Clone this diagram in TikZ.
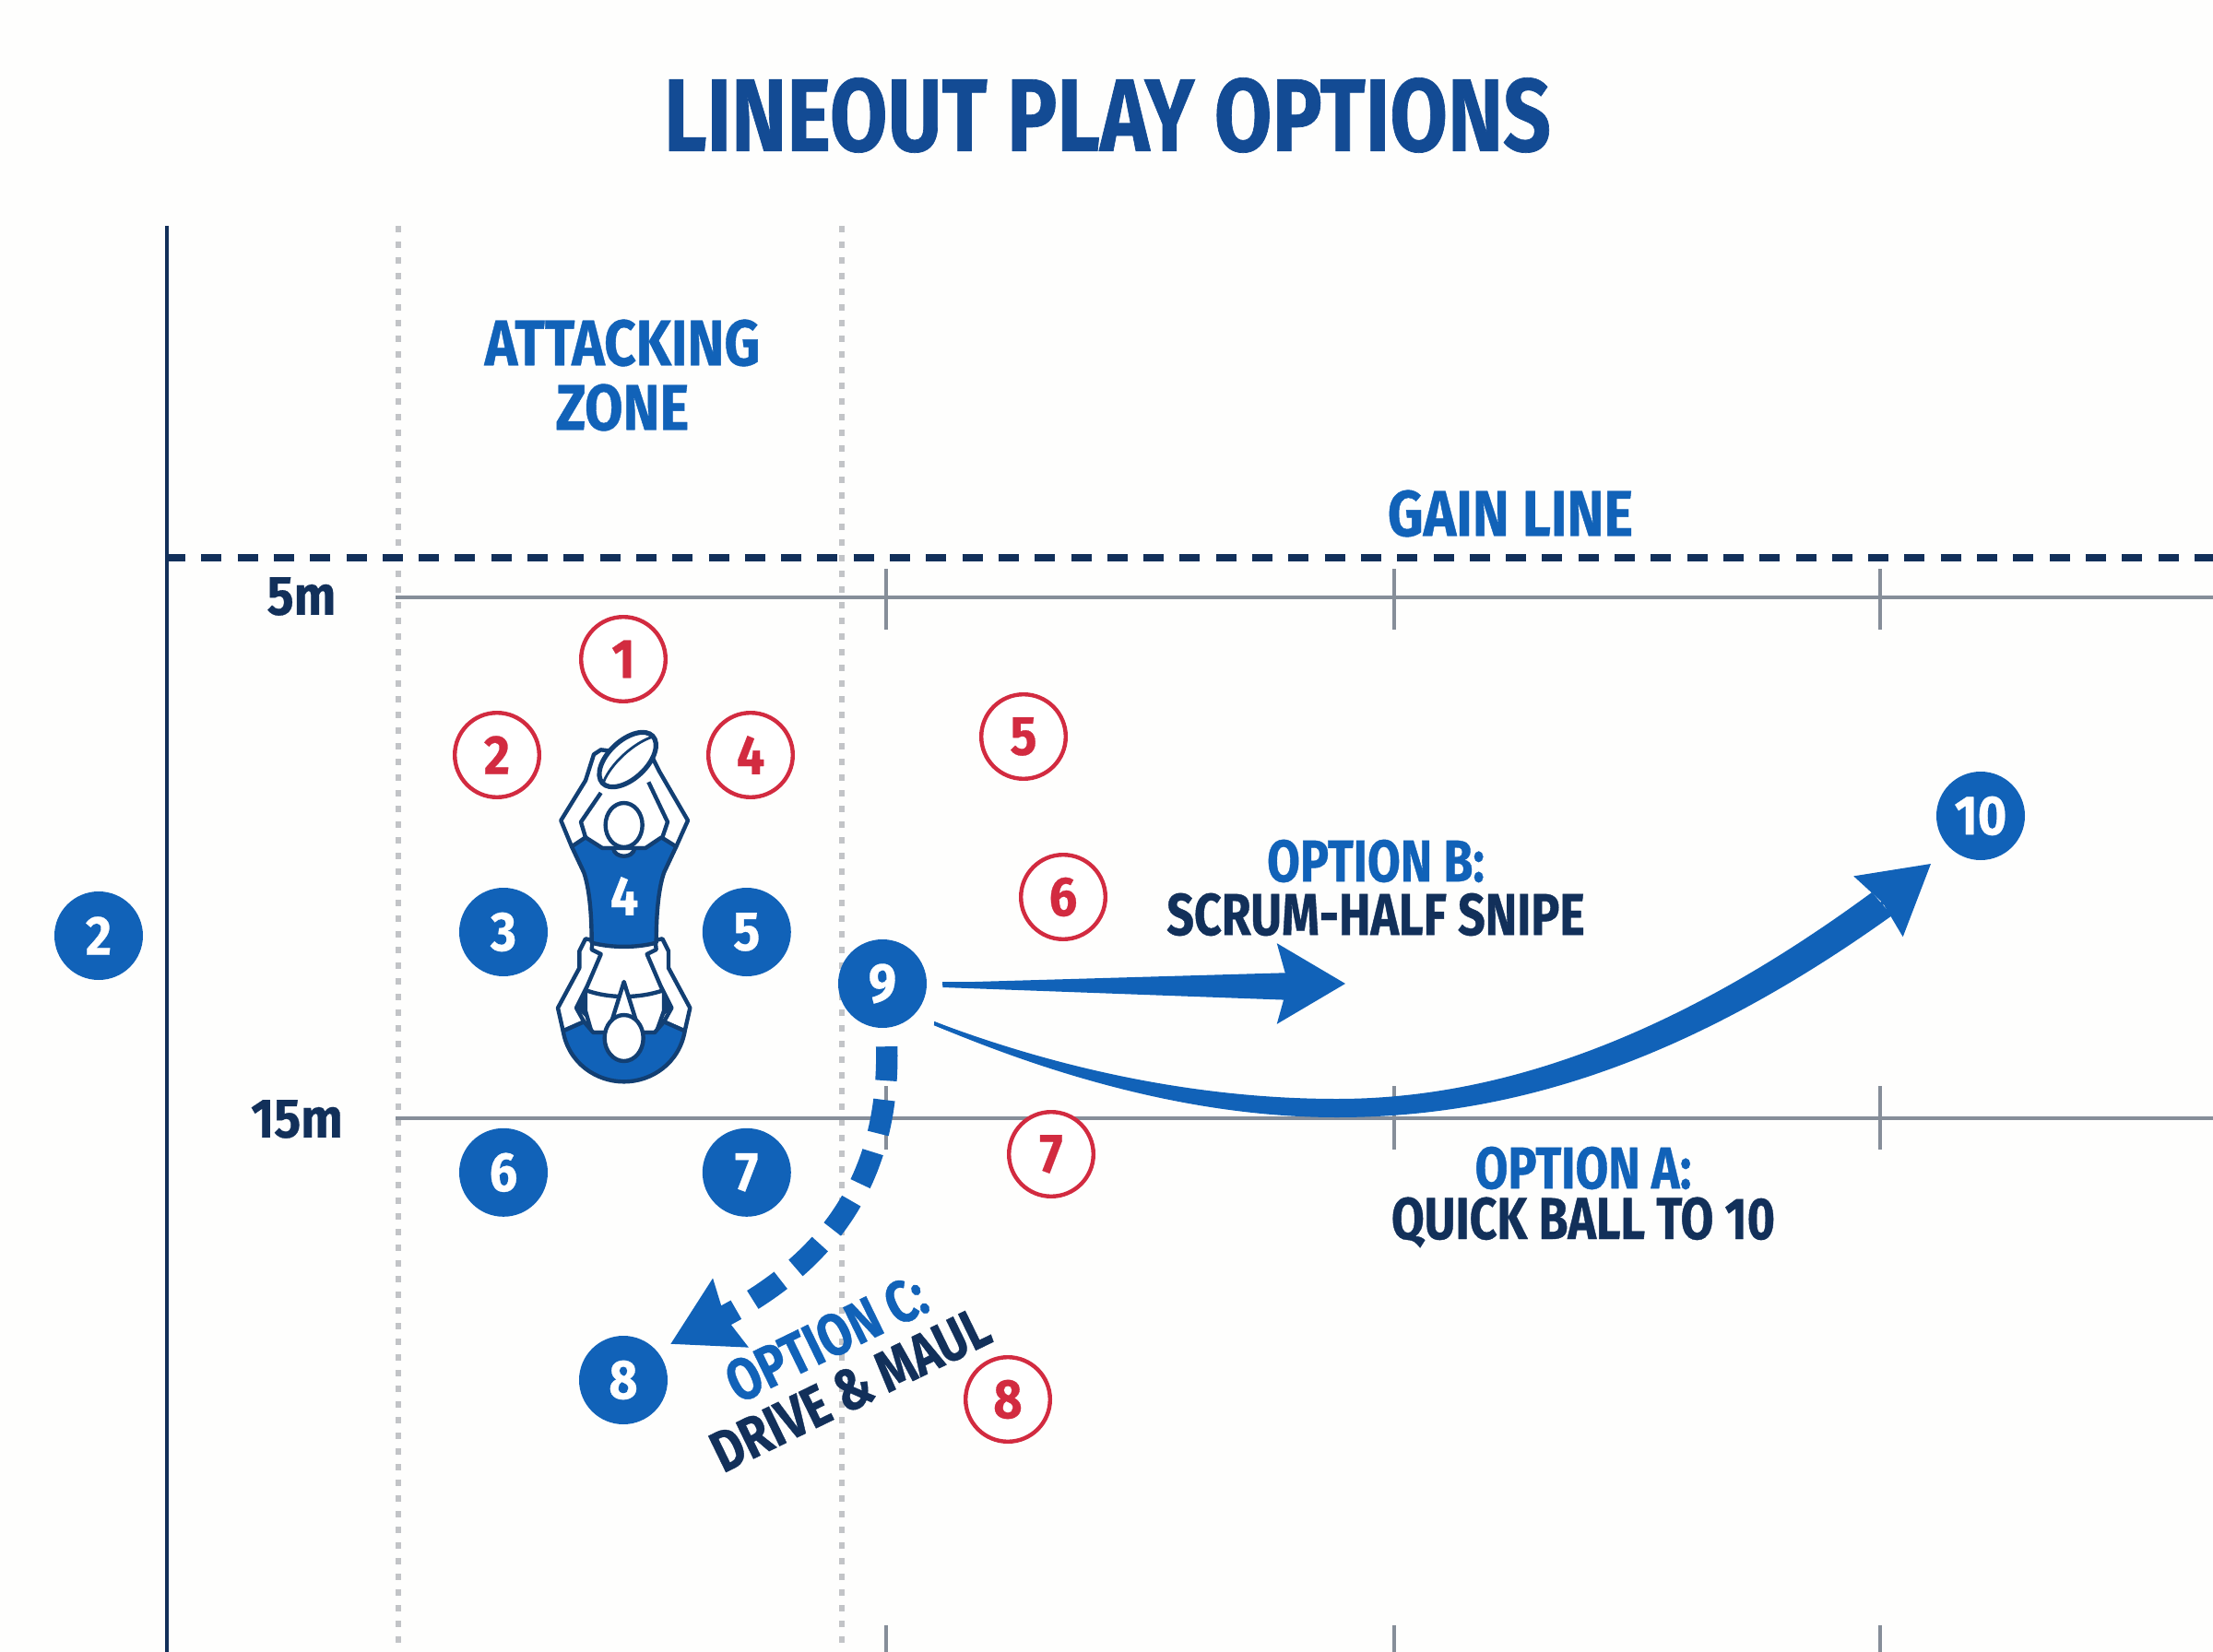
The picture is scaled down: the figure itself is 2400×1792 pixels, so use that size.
\documentclass[tikz,border=0pt]{standalone}
\usepackage{fontspec}
\usetikzlibrary{arrows.meta,positioning,calc}
\newfontfamily\lblfont[FakeStretch=0.81,BoldFeatures={FakeBold=0.6}]{Fira Sans}
\newfontfamily\wdfont[FakeStretch=0.86,BoldFeatures={FakeBold=0.6}]{Fira Sans}
\newfontfamily\numfont[FakeStretch=0.9,BoldFeatures={FakeBold=0.5}]{Fira Sans}
\definecolor{jersey}{HTML}{1162B8}
\definecolor{navy}{HTML}{12305A}
\definecolor{outl}{HTML}{123F73}
\definecolor{heading}{HTML}{134B94}
\definecolor{redp}{HTML}{D22B40}
\definecolor{greyl}{HTML}{868E99}
\definecolor{dotl}{HTML}{C2C4C7}
\definecolor{paper}{HTML}{FEFEFD}
\tikzset{x=.5pt, y=-.5pt}
\tikzstyle{atk}=[circle, fill=jersey, text=white, inner sep=0pt, minimum size=48pt, font=\numfont\bfseries\fontsize{30}{30}\selectfont]
\tikzstyle{dfn}=[circle, draw=redp, line width=2.2pt, fill=white, text=redp, inner sep=0pt, minimum size=45.8pt, font=\numfont\bfseries\fontsize{30}{30}\selectfont]
\tikzstyle{opt}=[inner sep=0pt, text=jersey, font=\lblfont\bfseries\fontsize{32}{32}\selectfont]
\tikzstyle{zonetxt}=[inner sep=0pt, text=jersey, font=\wdfont\bfseries\fontsize{35}{35}\selectfont]
\tikzstyle{call}=[inner sep=0pt, text=navy, font=\lblfont\bfseries\fontsize{32}{32}\selectfont]
\tikzstyle{dist}=[inner sep=0pt, text=navy, font=\numfont\bfseries\fontsize{30}{30}\selectfont]
\tikzstyle{pitch}=[greyl, line width=1.6pt]
\tikzstyle{zone}=[dotl, line width=3pt, dash pattern=on 3.5pt off 5pt]
\tikzstyle{body}=[draw=outl, line width=2.2pt, line join=round]
\tikzstyle{run}=[jersey, line width=2pt]
\begin{document}
\begin{tikzpicture}
        \fill[paper] (0,0) rectangle (2400,1792);
        \useasboundingbox (0,0) rectangle (2400,1792);
        % pitch markings
        \draw[zone] (432,245) -- (432,1792);
        \draw[zone] (913,245) -- (913,1792);
        \draw[pitch] (429,648) -- (2400,648);
        \draw[pitch] (429,1213) -- (2400,1213);
        \foreach \tx in {961,1512,2039} {
            \draw[pitch] (\tx,617) -- (\tx,683);
            \draw[pitch] (\tx,1178) -- (\tx,1247);
            \draw[pitch] (\tx,1763) -- (\tx,1792);
        }
        \draw[navy, line width=2pt] (181,245) -- (181,1792);
        \draw[navy, line width=4pt, dash pattern=on 11pt off 8.65pt] (179,605) -- (2400,605);

        \node (title) [inner sep=0pt, text=heading, font=\lblfont\bfseries\fontsize{56}{56}\selectfont] at (1201,125) {LINEOUT PLAY OPTIONS};
        \node (zone1) [zonetxt] at (675,372) {ATTACKING};
        \node (zone2) [zonetxt] at (675,442) {ZONE};
        \node (gain) [zonetxt] at (1638,557) {GAIN LINE};
        \node (m5) [dist] at (327,647) {5m};
        \node (m15) [dist] at (322,1214) {15m};

        % lifted jumper
        \begin{scope}[shift={(520,720)}, x=.16667pt, y=-.16667pt]
            % arms of the jumper
            \filldraw[body, fill=white] (300,595) -- (265,510) -- (345,380) -- (372,295) -- (395,280) -- (560,300) -- (585,350) -- (678,510) -- (640,595) -- (540,600) -- (400,600) -- cycle;
            \draw[body] (345,565) -- (330,515) -- (395,420);
            \draw[body] (595,565) -- (612,515) -- (550,385);
            % shorts and legs
            \filldraw[body, fill=white] (365,905) -- (575,905) -- (600,1070) -- (600,1130) -- (575,1200) -- (365,1200) -- (345,1130) -- (345,1060) -- cycle;
            \draw[body] (345,1062) .. controls (420,1090) and (520,1090) .. (600,1062);
            % arms of the lifter
            \filldraw[body, fill=white] (345,895) -- (325,935) -- (325,990) -- (255,1120) -- (272,1195) -- (340,1165) -- (315,1120) -- (350,1050) -- (395,945) -- (365,930) -- (368,900) -- cycle;
            \filldraw[body, fill=white] (595,895) -- (615,935) -- (615,990) -- (685,1120) -- (668,1195) -- (600,1165) -- (625,1120) -- (590,1050) -- (545,945) -- (575,930) -- (572,900) -- cycle;
            \fill[outl] (345,1068) -- (315,1120) -- (345,1150) -- cycle;
            \fill[outl] (595,1068) -- (625,1120) -- (595,1150) -- cycle;
            % back of the lifter
            \filldraw[body, fill=jersey] (272,1195) -- (340,1165) -- (370,1200) -- (570,1200) -- (600,1165) -- (668,1195) .. controls (650,1300) and (560,1360) .. (470,1360) .. controls (380,1360) and (290,1300) .. (272,1195) -- cycle;
            \filldraw[body, fill=white] (470,1035) -- (512,1170) -- (428,1170) -- cycle;
            \filldraw[body, fill=white] (470,1218) ellipse (63 and 75);
            % jersey
            \filldraw[body, fill=jersey] (300,595) -- (345,565) -- (400,600) -- (435,600) .. controls (440,635) and (500,635) .. (505,600) -- (540,600) -- (592,565) -- (640,595) -- (600,680) .. controls (580,740) and (575,830) .. (575,908) .. controls (510,925) and (430,925) .. (365,908) .. controls (365,830) and (360,740) .. (340,680) -- cycle;
            \filldraw[body, fill=white] (470,525) ellipse (60 and 72);
            % ball
            \filldraw[draw=outl, line width=2.6pt, fill=white, rotate around={43:(482,312)}] (482,312) ellipse (112 and 62);
            \draw[draw=outl, line width=1.4pt, rotate around={43:(482,312)}] (375,312) .. controls (430,285) and (530,285) .. (590,312);
        \end{scope}
        \node (shirt) [inner sep=0pt, text=white, font=\numfont\bfseries\fontsize{30}{30}\selectfont] at (677,972) {4};

        % attacking pack
        \node (n3) [atk] at (546,1011) {3};
        \node (n5) [atk, right=83.5pt of n3] {5};
        \node (n6) [atk, below=82pt of n3] {6};
        \node (n7) [atk, right=83.5pt of n6] {7};
        \node (n8) [atk] at (676,1497) {8};
        \node (n2) [atk] at (107,1015) {2};
        \node (n9) [atk] at (957,1067) {9};
        \node (n10) [atk] at (2148,885) {10};

        % defending pack
        \node (d1) [dfn] at (676,715) {1};
        \node (d2) [dfn] at (539,819) {2};
        \node (d4) [dfn] at (814,819) {4};
        \node (d5) [dfn] at (1110,799) {5};
        \node (d6) [dfn] at (1153,973) {6};
        \node (d7) [dfn] at (1140,1252) {7};
        \node (d8) [dfn] at (1093,1518) {8};

        % options
        \coordinate (tipb) at (1459,1067);
        \coordinate (tipa) at (2094,937);
        \coordinate (tipc) at (727,1458);
        \draw[run, shorten <=8.5pt, -{Stealth[length=37pt,width=43.5pt,inset=6pt]}] (n9.east) -- (tipb);
        \fill[jersey] ($(n9.east)+(17,-1)$) -- ($(tipb)+(-55,-12)$) -- ($(tipb)+(-55,18)$) -- ($(n9.east)+(17,4)$) -- cycle;
        \draw[run, shorten <=12pt, -{Stealth[length=36.6pt,width=42pt,inset=3pt]}] (n9.-45) .. controls (1151,1166) and (1300,1202) .. (1452,1202) .. controls (1640,1202) and (1860,1127) .. (tipa);
        \fill[jersey] (1013,1108) .. controls (1150,1160) and (1300,1192) .. (1450,1192) .. controls (1620,1192) and (1810,1130) .. (2030,968) -- (2052,993) .. controls (1830,1152) and (1640,1212) .. (1450,1212) .. controls (1300,1212) and (1150,1170) .. (1013,1112) -- cycle;
        \draw[jersey, line width=11.7pt, dash pattern=on 18.5pt off 10.5pt, shorten <=10pt, -{Stealth[length=36pt,width=40pt,inset=3pt]}] (n9.-85) .. controls (965,1280) and (897,1370) .. (tipc);

        \node (opta) [opt] at (1717,1267) {OPTION A:};
        \node (calla) [call] at (1717,1326) {QUICK BALL TO 10};
        \node (optb) [opt] at (1492,934) {OPTION B:};
        \node (callb) [call] at (1492,992) {SCRUM-HALF SNIPE};
        \node (optc) [opt, rotate=26, font=\lblfont\bfseries\fontsize{32}{32}\selectfont] at (896,1452) {OPTION C:};
        \node (callc) [call, rotate=26, font=\lblfont\bfseries\fontsize{31.5}{31.5}\selectfont] at (922,1507) {DRIVE \& MAUL};
\end{tikzpicture}
\end{document}
